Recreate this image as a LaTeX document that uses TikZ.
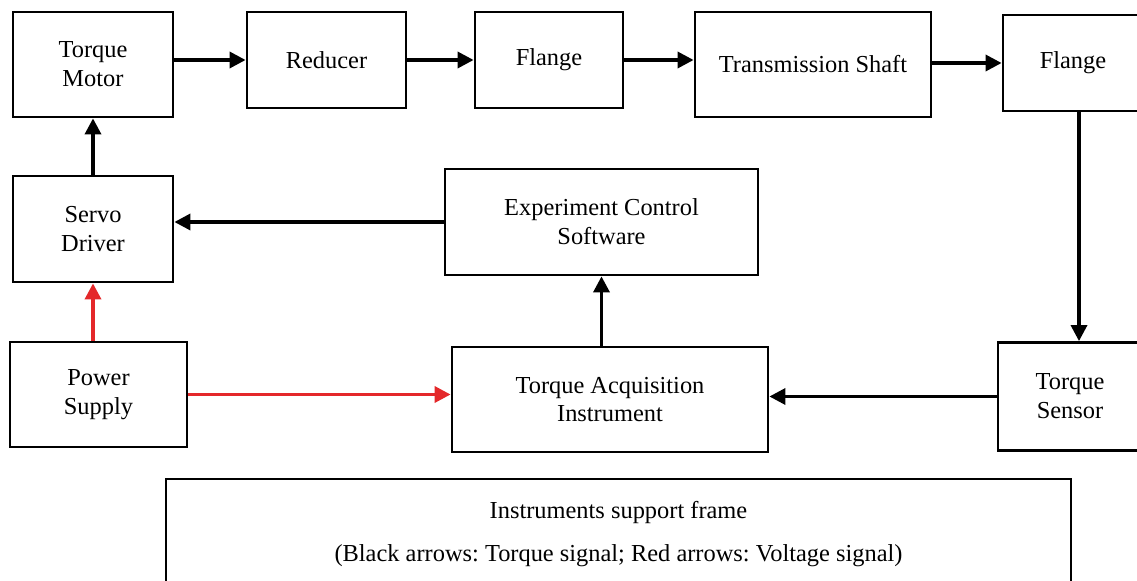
\documentclass[tikz,border=0pt]{standalone}
\usepackage{fontspec}
\setmainfont{Liberation Serif}
\frenchspacing
\usetikzlibrary{arrows.meta}
\definecolor{sigred}{RGB}{228,40,42}
\tikzset{
  txt/.style={font=\fontsize{24.5}{29}\selectfont},
  blk/.style={txt, draw=black, line width=2.8bp, inner sep=0pt, align=center},
  sig/.style={line width=3.4bp, -{Triangle[length=16bp,width=16bp]}},
  volt/.style={sig, draw=sigred, -{Triangle[length=16bp,width=16bp,fill=sigred]}}
}
\begin{document}
\begin{tikzpicture}[x=1bp,y=-1bp]
\useasboundingbox (0,0) rectangle (1137,581);
\node[blk, minimum width=160bp, minimum height=105bp] (tm) at (93,64.5) {Torque\\Motor};
\node[blk, minimum width=159bp, minimum height=96bp] (red) at (326.5,60) {Reducer};
\node[blk, minimum width=148bp, minimum height=96bp] (f1) at (549,60) {Flange};
\node[blk, minimum width=236bp, minimum height=105bp] (ts) at (813,64.5) {Transmission Shaft};
\node[blk, minimum width=140bp, minimum height=96bp] (f2) at (1073,63) {Flange};
\node[blk, minimum width=160bp, minimum height=106bp] (sd) at (93,229) {Servo\\Driver};
\node[blk, minimum width=313bp, minimum height=106bp] (ecs) at (601.5,222) {Experiment Control\\Software};
\node[blk, minimum width=177bp, minimum height=105bp] (ps) at (98.5,394.5) {Power\\Supply};
\node[blk, minimum width=316bp, minimum height=105bp] (tai) at (610,399.5) {Torque Acquisition\\Instrument};
\node[blk, minimum width=144bp, minimum height=108bp] (tsen) at (1070,396.5) {Torque\\Sensor};
\node[blk, minimum width=905bp, minimum height=122bp] (frame) at (618.5,540) {};
\node[txt] (l1) at (618.5,513) {Instruments support frame};
\node[txt] (l2) at (618.5,556) {(Black arrows: Torque signal; Red arrows: Voltage signal)};
\coordinate (c1) at (1079,0);
% black arrows
\draw[sig] (tm.east |- red.west) -- (red.west);
\draw[sig] (red.east) -- (f1.west);
\draw[sig] (f1.east) -- (ts.west |- f1.east);
\draw[sig] (ts.east |- f2.west) -- (f2.west);
\draw[sig] (f2.south -| c1) -- (tsen.north -| c1);
\draw[sig] (tsen.west) -- (tai.east |- tsen.west);
\draw[sig] (tai.north -| ecs.south) -- (ecs.south);
\draw[sig] (ecs.west) -- (sd.east |- ecs.west);
\draw[sig] (sd.north) -- (tm.south);
% red arrows
\draw[volt] (ps.north -| sd.south) -- (sd.south);
\draw[volt] (ps.east) -- (tai.west |- ps.east);
\end{tikzpicture}
\end{document}
